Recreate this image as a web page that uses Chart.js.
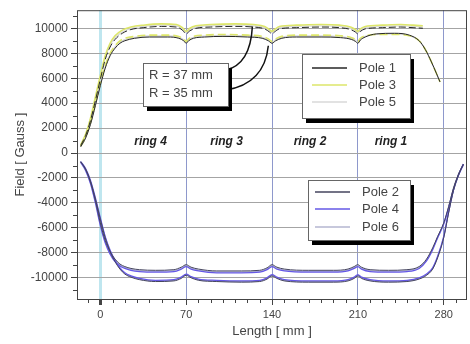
<!DOCTYPE html>
<html>
<head>
<meta charset="utf-8">
<title>Field along magnet length</title>
<script src="https://cdn.jsdelivr.net/npm/chart.js@4/dist/chart.umd.min.js"></script>
<style>
  html, body { margin: 0; padding: 0; background: #fff; }
  #wrap { width: 470px; height: 344px; position: relative; }
</style>
</head>
<body>
<div id="wrap"><canvas id="field"></canvas></div>
<script>
'use strict';

var xTickValues = [0, 70, 140, 210, 280];
var yTickValues = [-10000, -8000, -6000, -4000, -2000, 0, 2000, 4000, 6000, 8000, 10000];
var ringNames = ['ring 4', 'ring 3', 'ring 2', 'ring 1'];
var ringCenters = [41, 103, 171, 237];
var radiusNotes = ['R = 37 mm', 'R = 35 mm'];

// positive poles, R = 37 mm
var lengthPosA = [-16, -12, -8, -4, 0, 4, 8, 12, 18, 25, 35, 50, 62, 67, 70, 73, 78, 90, 110, 125,
    134, 138, 140, 142, 146, 160, 180, 195, 204, 208, 210, 212, 216, 230, 245, 255, 263];
var pole1A = [600, 1400, 2600, 4200, 5900, 7500, 8500, 9100, 9600, 9900, 10050, 10150, 10100, 9850, 9550, 9800, 10000, 10100, 10150, 10100,
    9950, 9700, 9550, 9700, 9950, 10050, 10100, 10050, 9900, 9700, 9550, 9750, 9950, 10050, 10100, 10050, 10000];
var pole3A = [650, 1500, 2800, 4500, 6200, 7800, 8800, 9400, 9850, 10100, 10250, 10350, 10300, 10050, 9750, 10000, 10200, 10300, 10350, 10300,
    10150, 9900, 9750, 9900, 10150, 10250, 10300, 10250, 10100, 9900, 9750, 9950, 10150, 10250, 10300, 10250, 10200];
var pole5A = [620, 1450, 2700, 4350, 6050, 7650, 8650, 9250, 9700, 10000, 10150, 10250, 10200, 9950, 9650, 9900, 10100, 10200, 10250, 10200,
    10050, 9800, 9650, 9800, 10050, 10150, 10200, 10150, 10000, 9800, 9650, 9850, 10050, 10150, 10200, 10150, 10100];

// positive poles, R = 35 mm
var lengthPosB = [-16, -12, -8, -4, 0, 4, 8, 12, 16, 20, 28, 40, 55, 64, 68, 70, 72, 76, 85, 100,
    120, 132, 137, 140, 143, 148, 160, 180, 196, 205, 208, 210, 212, 216, 225, 240, 252, 260, 265, 270, 274, 277];
var pole1B = [500, 1200, 2300, 3800, 5400, 6800, 7800, 8400, 8800, 9000, 9200, 9300, 9300, 9200, 9000, 8800, 9000, 9200, 9300, 9350,
    9300, 9200, 9000, 8800, 9000, 9200, 9300, 9300, 9250, 9100, 8950, 8800, 9050, 9300, 9550, 9600, 9450, 9000, 8300, 7300, 6400, 5700];
var pole3B = [550, 1300, 2450, 4000, 5600, 7000, 8000, 8600, 9000, 9200, 9350, 9450, 9450, 9350, 9150, 8950, 9150, 9350, 9450, 9500,
    9450, 9350, 9150, 8950, 9150, 9350, 9450, 9450, 9400, 9250, 9100, 8950, 9200, 9400, 9500, 9500, 9400, 9000, 8300, 7300, 6400, 5700];
var pole5B = [520, 1250, 2380, 3900, 5500, 6900, 7900, 8500, 8900, 9100, 9280, 9380, 9380, 9280, 9080, 8880, 9080, 9280, 9380, 9420,
    9380, 9280, 9080, 8880, 9080, 9280, 9380, 9380, 9320, 9180, 9030, 8880, 9120, 9350, 9520, 9550, 9420, 9000, 8300, 7300, 6400, 5700];

// negative poles
var lengthNeg = [-16, -12, -8, -4, 0, 4, 8, 12, 16, 20, 25, 32, 45, 60, 66, 70, 74, 80, 95, 115,
    130, 136, 140, 144, 150, 170, 190, 202, 207, 210, 213, 220, 235, 250, 260, 266, 271, 275, 280, 284, 288, 292, 296];
var pole2A = [-700, -1300, -2300, -3700, -5300, -6800, -7900, -8700, -9300, -9700, -9950, -10150, -10300, -10250, -10050, -9800, -10000, -10200, -10300, -10350,
    -10300, -10100, -9850, -10050, -10250, -10350, -10350, -10250, -10050, -9850, -10050, -10250, -10350, -10300, -10100, -9800, -9300, -8400, -6800, -4800, -3000, -1800, -900];
var pole4A = [-680, -1250, -2200, -3600, -5200, -6700, -7800, -8600, -9200, -9600, -9850, -10050, -10200, -10150, -9950, -9700, -9900, -10100, -10200, -10250,
    -10200, -10000, -9750, -9950, -10150, -10250, -10250, -10150, -9950, -9750, -9950, -10150, -10250, -10200, -10000, -9700, -9200, -8300, -6700, -4700, -2950, -1750, -880];
var pole6A = [-690, -1280, -2250, -3650, -5250, -6750, -7850, -8650, -9250, -9650, -9900, -10100, -10250, -10200, -10000, -9750, -9950, -10150, -10250, -10300,
    -10250, -10050, -9800, -10000, -10200, -10300, -10300, -10200, -10000, -9800, -10000, -10200, -10300, -10250, -10050, -9750, -9250, -8350, -6750, -4750, -2980, -1780, -890];
var pole2B = [-700, -1300, -2300, -3800, -5600, -7000, -7900, -8500, -8900, -9100, -9250, -9350, -9400, -9350, -9150, -8950, -9150, -9300, -9450, -9450,
    -9400, -9200, -8950, -9150, -9300, -9400, -9400, -9300, -9100, -8950, -9150, -9350, -9400, -9350, -9100, -8500, -7600, -6700, -5600, -4300, -2800, -1700, -900];
var pole4B = [-750, -1400, -2450, -4000, -5800, -7200, -8100, -8700, -9050, -9250, -9400, -9500, -9550, -9500, -9300, -9100, -9300, -9450, -9600, -9600,
    -9550, -9350, -9100, -9300, -9450, -9550, -9550, -9450, -9250, -9100, -9300, -9500, -9550, -9500, -9250, -8650, -7750, -6800, -5700, -4400, -2900, -1800, -950];
var pole6B = [-720, -1350, -2380, -3900, -5700, -7100, -8000, -8600, -8980, -9180, -9320, -9420, -9480, -9420, -9220, -9020, -9220, -9380, -9520, -9520,
    -9480, -9280, -9020, -9220, -9380, -9480, -9480, -9380, -9180, -9020, -9220, -9420, -9480, -9420, -9180, -8580, -7680, -6750, -5650, -4350, -2850, -1750, -920];

var poleColors = {
    'Pole 1': '#262626',
    'Pole 3': '#dde66a',
    'Pole 5': '#d8d8d8',
    'Pole 2': '#44445e',
    'Pole 4': '#6558e6',
    'Pole 6': '#b4b6d0'
};

function pairUp(xs, ys) {
    var out = [];
    for (var i = 0; i < xs.length; i++) {
        out.push({ x: xs[i], y: ys[i] });
    }
    return out;
}

function makeSet(label, xs, ys, width, dash) {
    return {
        label: label,
        data: pairUp(xs, ys),
        borderColor: poleColors[label],
        borderWidth: width,
        borderDash: dash || [],
        pointRadius: 0,
        fill: false,
        cubicInterpolationMode: 'monotone'
    };
}

var dataSets = [
    makeSet('Pole 1', lengthPosA, pole1A, 1, [7, 3]),
    makeSet('Pole 1', lengthPosB, pole1B, 1),
    makeSet('Pole 2', lengthNeg, pole2A, 1),
    makeSet('Pole 2', lengthNeg, pole2B, 1),
    makeSet('Pole 4', lengthNeg, pole4A, 1.3),
    makeSet('Pole 4', lengthNeg, pole4B, 1.3),
    makeSet('Pole 3', lengthPosA, pole3A, 1.6),
    makeSet('Pole 3', lengthPosB, pole3B, 1.6, [8, 4]),
    makeSet('Pole 5', lengthPosA, pole5A, 1.3),
    makeSet('Pole 5', lengthPosB, pole5B, 1.3),
    makeSet('Pole 6', lengthNeg, pole6A, 1.2),
    makeSet('Pole 6', lengthNeg, pole6B, 1.2)
];

function shadowBox(ctx, x, y, w, h) {
    ctx.fillStyle = '#000';
    ctx.fillRect(x + 4, y + 5, w, h);
    ctx.fillStyle = '#fff';
    ctx.fillRect(x, y, w, h);
    ctx.strokeStyle = '#666';
    ctx.lineWidth = 1;
    ctx.strokeRect(x + 0.5, y + 0.5, w, h);
}

function drawKey(ctx, x, y, w, h, names, lineX, textX, rowY) {
    shadowBox(ctx, x, y, w, h);
    ctx.font = '13px "Liberation Sans", Arial, sans-serif';
    ctx.textBaseline = 'middle';
    ctx.textAlign = 'left';
    for (var i = 0; i < names.length; i++) {
        var ry = rowY[i];
        ctx.strokeStyle = poleColors[names[i]];
        ctx.lineWidth = 1.5;
        ctx.setLineDash([]);
        ctx.beginPath();
        ctx.moveTo(lineX[0], ry);
        ctx.lineTo(lineX[1], ry);
        ctx.stroke();
        ctx.fillStyle = '#444';
        ctx.fillText(names[i], textX, ry);
    }
}

var decorations = {
    id: 'decorations',
    afterDraw: function(chart) {
        var ctx = chart.ctx;
        var area = chart.chartArea;
        var xs = chart.scales.x;
        var ys = chart.scales.y;
        var i;

        ctx.save();

        // minor ticks
        ctx.strokeStyle = '#444';
        ctx.lineWidth = 1;
        ctx.beginPath();
        for (i = -10; i <= 290; i += 10) {
            if (i % 70 === 0) continue;
            var px = Math.round(xs.getPixelForValue(i)) + 0.5;
            ctx.moveTo(px, area.bottom);
            ctx.lineTo(px, area.bottom + 4);
        }
        for (i = -11000; i <= 11000; i += 1000) {
            if (i % 2000 === 0) continue;
            var py = Math.round(ys.getPixelForValue(i)) + 0.5;
            ctx.moveTo(area.left - 4, py);
            ctx.lineTo(area.left, py);
        }
        ctx.stroke();

        // plot frame
        ctx.strokeStyle = '#444';
        ctx.strokeRect(area.left + 0.5, area.top + 0.5, area.right - area.left - 1, area.bottom - area.top);

        // ring names
        ctx.fillStyle = '#222';
        ctx.font = 'italic bold 12px "Liberation Sans", Arial, sans-serif';
        ctx.textAlign = 'center';
        ctx.textBaseline = 'middle';
        for (i = 0; i < ringNames.length; i++) {
            ctx.fillText(ringNames[i], xs.getPixelForValue(ringCenters[i]), ys.getPixelForValue(900));
        }

        // leader lines from the radius note to the curves
        ctx.strokeStyle = '#111';
        ctx.lineWidth = 1.5;
        ctx.beginPath();
        var end1x = xs.getPixelForValue(124);
        var end1y = ys.getPixelForValue(10150);
        ctx.moveTo(226, 70);
        ctx.quadraticCurveTo(end1x - 2, 64, end1x, end1y);
        var end2x = xs.getPixelForValue(137);
        var end2y = ys.getPixelForValue(8600);
        ctx.moveTo(226, 90);
        ctx.quadraticCurveTo(end2x - 4, 84, end2x, end2y);
        ctx.stroke();

        // radius note
        shadowBox(ctx, 143, 63, 85, 43);
        ctx.fillStyle = '#444';
        ctx.font = '13px "Liberation Sans", Arial, sans-serif';
        ctx.textAlign = 'left';
        ctx.fillText(radiusNotes[0], 149, 75);
        ctx.fillText(radiusNotes[1], 149, 93);

        // keys
        drawKey(ctx, 302, 54, 108, 64, ['Pole 1', 'Pole 3', 'Pole 5'], [312, 347], 359, [68, 85, 102]);
        drawKey(ctx, 308, 180, 102, 60, ['Pole 2', 'Pole 4', 'Pole 6'], [315, 350], 362, [192, 209, 227]);

        ctx.restore();
    }
};

var ctx = document.getElementById('field').getContext('2d');

var chart = new Chart(ctx, {
    type: 'line',
    data: { datasets: dataSets },
    options: {
        responsive: true,
        maintainAspectRatio: false,
        animation: false,
        layout: { padding: { left: 9, top: 10, right: 3, bottom: 0 } },
        plugins: {
            legend: { display: false },
            tooltip: { enabled: false }
        },
        scales: {
            x: {
                type: 'linear',
                min: -19,
                max: 299,
                afterBuildTicks: function(scale) {
                    scale.ticks = xTickValues.map(function(v) { return { value: v }; });
                },
                afterFit: function(scale) { scale.height = 45; },
                grid: {
                    color: function(c) { return c.tick && c.tick.value === 0 ? '#bfe6ef' : '#8e98cc'; },
                    lineWidth: function(c) { return c.tick && c.tick.value === 0 ? 3 : 1; },
                    tickColor: '#444',
                    tickLength: 6
                },
                border: { display: false },
                ticks: {
                    color: '#444',
                    padding: 3,
                    maxRotation: 0,
                    callback: function(v) { return String(v); },
                    font: { family: '"Liberation Sans", Arial, sans-serif', size: 11 }
                },
                title: {
                    display: true,
                    text: 'Length [ mm ]',
                    color: '#444',
                    padding: { top: 0, bottom: 5 },
                    font: { family: '"Liberation Sans", Arial, sans-serif', size: 13 }
                }
            },
            y: {
                min: -11700,
                max: 11450,
                afterBuildTicks: function(scale) {
                    scale.ticks = yTickValues.map(function(v) { return { value: v }; });
                },
                afterFit: function(scale) { scale.width = 68; },
                grid: {
                    color: '#a4a4a4',
                    tickColor: '#444',
                    tickLength: 6
                },
                border: { display: false },
                ticks: {
                    color: '#444',
                    padding: 3,
                    callback: function(v) { return String(v); },
                    font: { family: '"Liberation Sans", Arial, sans-serif', size: 12 }
                },
                title: {
                    display: true,
                    text: 'Field [ Gauss ]',
                    color: '#444',
                    padding: { top: 4, bottom: 0 },
                    font: { family: '"Liberation Sans", Arial, sans-serif', size: 13 }
                }
            }
        }
    },
    plugins: [decorations]
});
</script>
</body>
</html>
